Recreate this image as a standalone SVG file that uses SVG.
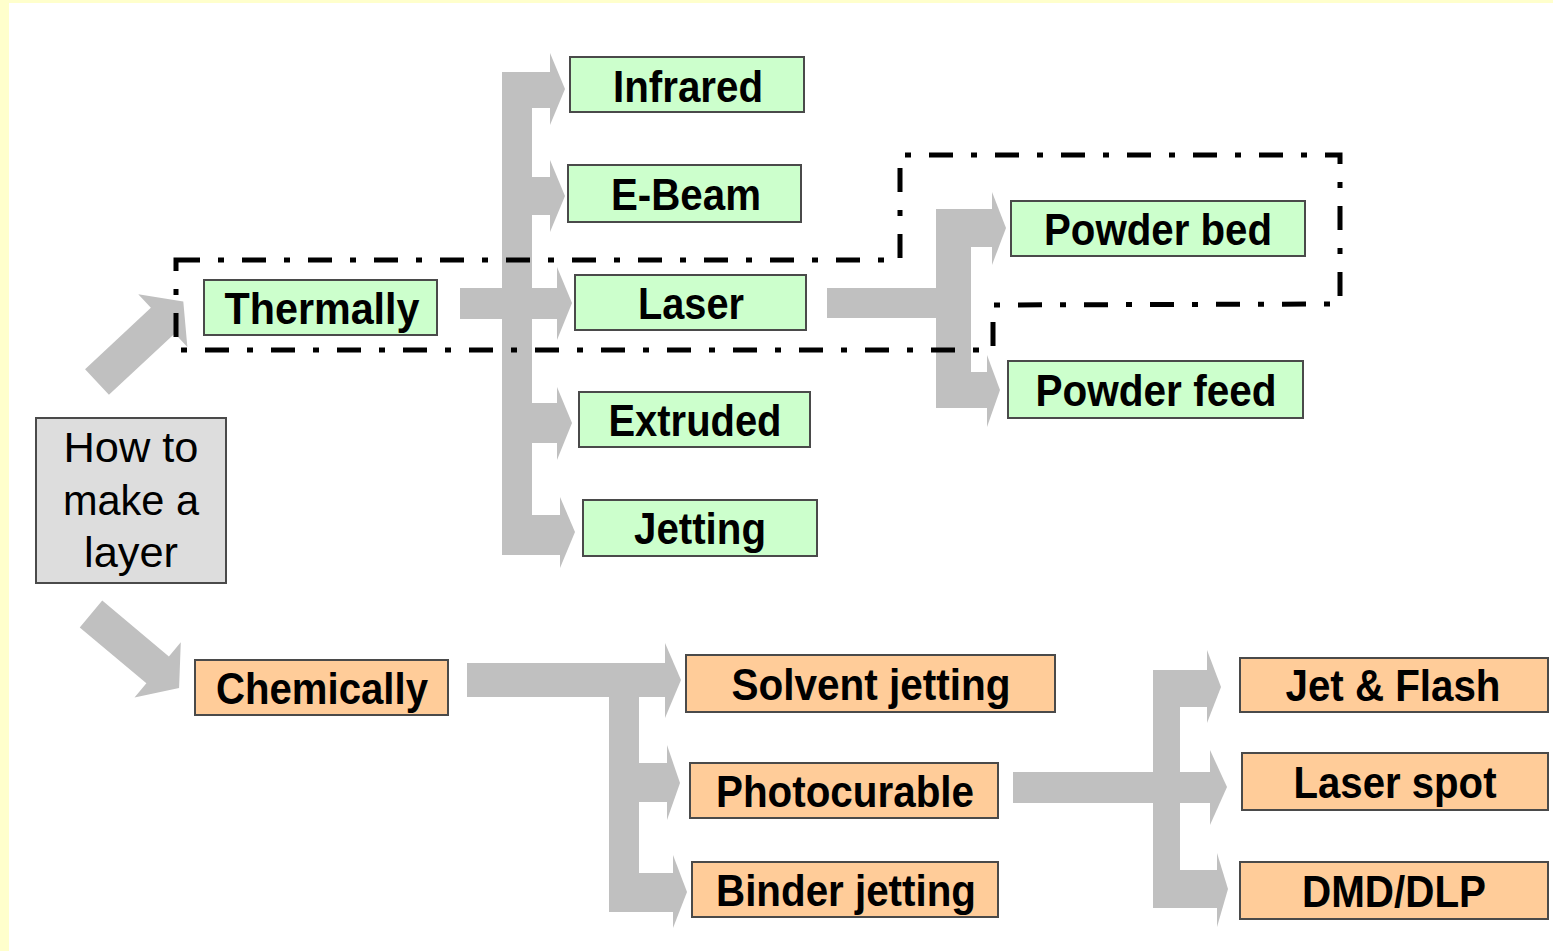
<svg xmlns="http://www.w3.org/2000/svg" width="1553" height="951" viewBox="0 0 1553 951">
<style>
.g{fill:#C0C0C0}
.box{stroke:#4A4A4A;stroke-width:2}
.grn{fill:#CCFFCC}
.org{fill:#FFCC99}
.gry{fill:#DDDDDD}
.t{font-family:"Liberation Sans",Arial,sans-serif;font-weight:bold;font-size:44px;fill:#000;text-anchor:middle}
.r{font-family:"Liberation Sans",Arial,sans-serif;font-size:43px;fill:#000;text-anchor:middle}
.dd{fill:none;stroke:#000;stroke-width:5;stroke-dasharray:24 18 6 18}
</style>
<rect x="0" y="0" width="1553" height="951" fill="#FFFFFF"/>
<rect x="0" y="0" width="1553" height="3" fill="#FFFFCC"/>
<rect x="0" y="0" width="9" height="951" fill="#FFFFCC"/>

<g id="connectors">
  <!-- diagonal arrows -->
  <polygon class="g" transform="translate(97,382) rotate(-43)" points="0,-17.5 90,-17.5 90,-36 118,0 90,36 90,17.5 0,17.5"/>
  <polygon class="g" transform="translate(91,614) rotate(40)" points="0,-17.5 87,-17.5 87,-36 115,0 87,36 87,17.5 0,17.5"/>
  <!-- thermal bracket -->
  <rect class="g" x="460" y="288" width="97" height="31"/>
  <rect class="g" x="502" y="72" width="30" height="483"/>
  <rect class="g" x="502" y="72" width="48" height="36"/>
  <polygon class="g" points="550,53 565,89 550,125"/>
  <rect class="g" x="532" y="177" width="18" height="38"/>
  <polygon class="g" points="550,160 565,196 550,232"/>
  <polygon class="g" points="557,267 572,303 557,340"/>
  <rect class="g" x="532" y="403" width="25" height="40"/>
  <polygon class="g" points="557,387 572,423 557,460"/>
  <rect class="g" x="502" y="515" width="58" height="40"/>
  <polygon class="g" points="560,497 575,532 560,568"/>
  <!-- powder bracket -->
  <rect class="g" x="827" y="288" width="110" height="30"/>
  <rect class="g" x="936" y="209" width="35" height="199"/>
  <rect class="g" x="936" y="209" width="56" height="38"/>
  <polygon class="g" points="992,192 1006,228 992,265"/>
  <rect class="g" x="936" y="372" width="51" height="36"/>
  <polygon class="g" points="987,355 1000,390 987,427"/>
  <!-- chemical bracket -->
  <rect class="g" x="467" y="663" width="198" height="34"/>
  <polygon class="g" points="665,643 681,680 665,718"/>
  <rect class="g" x="609" y="663" width="30" height="249"/>
  <rect class="g" x="639" y="763" width="28" height="39"/>
  <polygon class="g" points="667,745 680,783 667,820"/>
  <rect class="g" x="609" y="873" width="64" height="39"/>
  <polygon class="g" points="673,855 687,892 673,928"/>
  <!-- photocurable bracket -->
  <rect class="g" x="1013" y="772" width="197" height="31"/>
  <polygon class="g" points="1210,750 1227,787 1210,825"/>
  <rect class="g" x="1153" y="670" width="27" height="238"/>
  <rect class="g" x="1153" y="670" width="54" height="37"/>
  <polygon class="g" points="1207,650 1221,687 1207,723"/>
  <rect class="g" x="1153" y="870" width="64" height="38"/>
  <polygon class="g" points="1217,853 1228,889 1217,927"/>
</g>

<g id="laser-group-outline">
  <polygon class="dd" points="176,260 900,260 900,155 1340,155 1340,304 993,305 993,350 176,350"/>
</g>

<g id="how"><rect class="box gry" x="36" y="418" width="190" height="165"/>
  <text class="r" x="131" y="462" textLength="135" lengthAdjust="spacingAndGlyphs">How to</text>
  <text class="r" x="131" y="515" textLength="136" lengthAdjust="spacingAndGlyphs">make a</text>
  <text class="r" x="131" y="567" textLength="94" lengthAdjust="spacingAndGlyphs">layer</text></g>

<g id="thermally"><rect class="box grn" x="204" y="280" width="233" height="55"/><text class="t" x="322" y="323.5" textLength="195" lengthAdjust="spacingAndGlyphs">Thermally</text></g>
<g id="infrared"><rect class="box grn" x="570" y="57" width="234" height="55"/><text class="t" x="688" y="102" textLength="150" lengthAdjust="spacingAndGlyphs">Infrared</text></g>
<g id="ebeam"><rect class="box grn" x="568" y="165" width="233" height="57"/><text class="t" x="686" y="209.5" textLength="150" lengthAdjust="spacingAndGlyphs">E-Beam</text></g>
<g id="laser"><rect class="box grn" x="575" y="275" width="231" height="55"/><text class="t" x="691" y="318.5" textLength="106" lengthAdjust="spacingAndGlyphs">Laser</text></g>
<g id="extruded"><rect class="box grn" x="579" y="392" width="231" height="55"/><text class="t" x="695" y="435.5" textLength="173" lengthAdjust="spacingAndGlyphs">Extruded</text></g>
<g id="jetting"><rect class="box grn" x="583" y="500" width="234" height="56"/><text class="t" x="700" y="544" textLength="132" lengthAdjust="spacingAndGlyphs">Jetting</text></g>
<g id="powderbed"><rect class="box grn" x="1011" y="201" width="294" height="55"/><text class="t" x="1158" y="244.5" textLength="228" lengthAdjust="spacingAndGlyphs">Powder bed</text></g>
<g id="powderfeed"><rect class="box grn" x="1008" y="361" width="295" height="57"/><text class="t" x="1156" y="405.5" textLength="241" lengthAdjust="spacingAndGlyphs">Powder feed</text></g>

<g id="chemically"><rect class="box org" x="195" y="660" width="253" height="55"/><text class="t" x="322" y="703.5" textLength="212" lengthAdjust="spacingAndGlyphs">Chemically</text></g>
<g id="solvent"><rect class="box org" x="686" y="655" width="369" height="57"/><text class="t" x="871" y="699.5" textLength="279" lengthAdjust="spacingAndGlyphs">Solvent jetting</text></g>
<g id="photocurable"><rect class="box org" x="690" y="763" width="308" height="55"/><text class="t" x="845" y="806.5" textLength="258" lengthAdjust="spacingAndGlyphs">Photocurable</text></g>
<g id="binder"><rect class="box org" x="692" y="862" width="306" height="55"/><text class="t" x="846" y="905.5" textLength="260" lengthAdjust="spacingAndGlyphs">Binder jetting</text></g>
<g id="jetflash"><rect class="box org" x="1240" y="658" width="308" height="54"/><text class="t" x="1393" y="701" textLength="215" lengthAdjust="spacingAndGlyphs">Jet &amp; Flash</text></g>
<g id="laserspot"><rect class="box org" x="1242" y="753" width="306" height="57"/><text class="t" x="1395" y="797.5" textLength="203" lengthAdjust="spacingAndGlyphs">Laser spot</text></g>
<g id="dmd"><rect class="box org" x="1240" y="862" width="308" height="57"/><text class="t" x="1394" y="906.5" textLength="184" lengthAdjust="spacingAndGlyphs">DMD/DLP</text></g>
</svg>
